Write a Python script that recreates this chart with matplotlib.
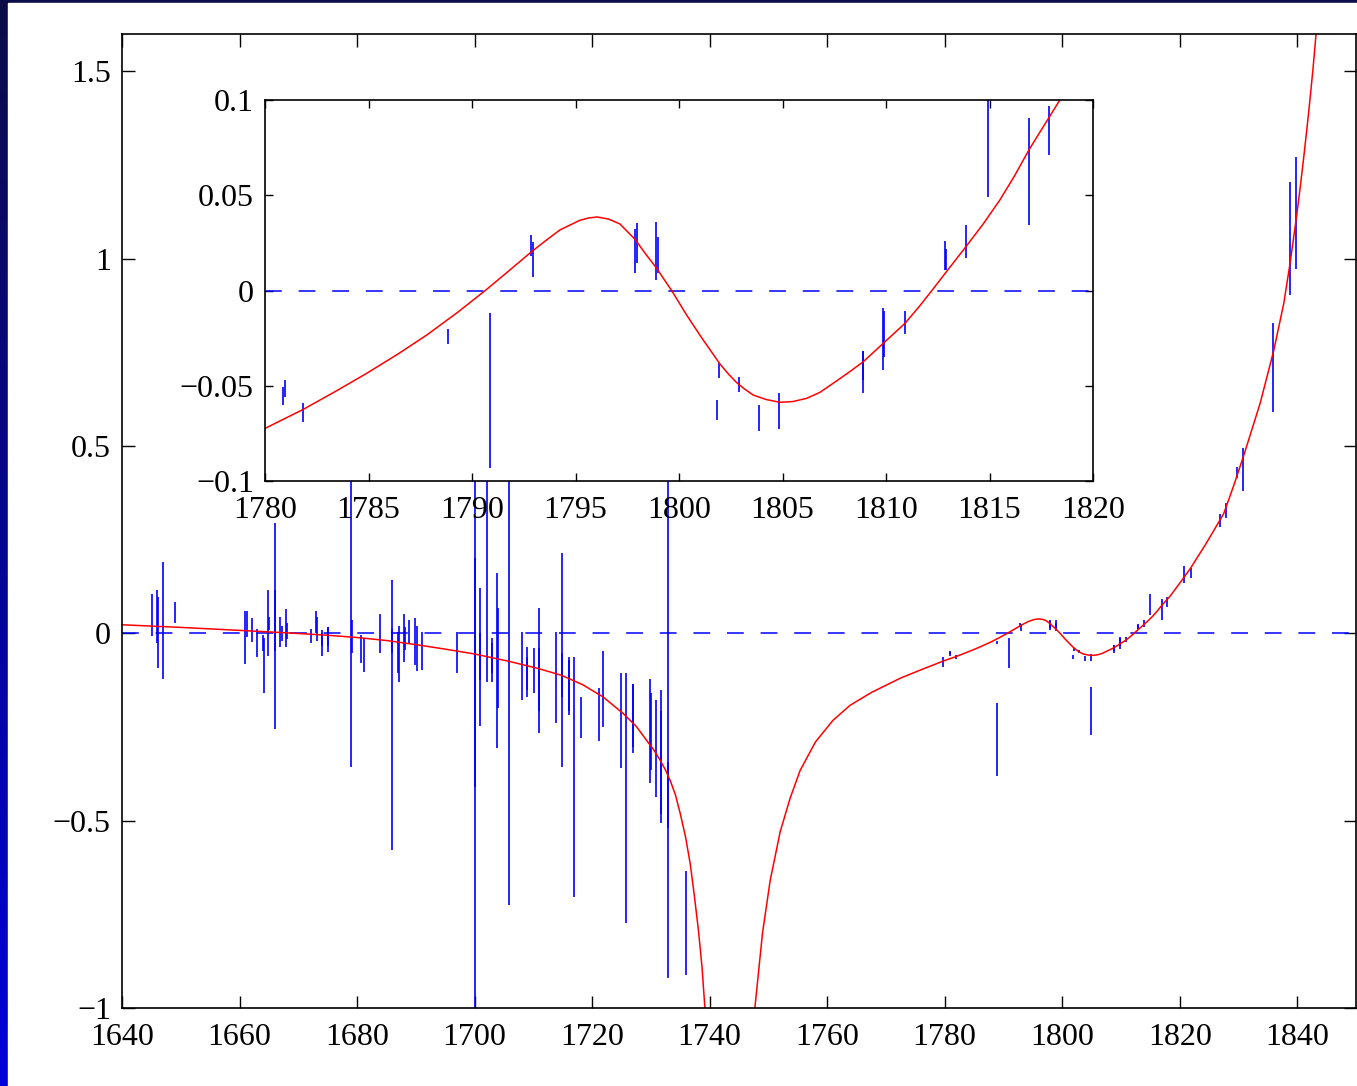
import numpy as np
import matplotlib
matplotlib.use("Agg")
import matplotlib.pyplot as plt
from matplotlib.patches import Rectangle

# error-bar segments: year, lower end, upper end
seg_year = [1645.1, 1645.9, 1646.1, 1647.0, 1649.1,
            1661.0, 1661.2, 1662.1, 1663.0, 1664.05, 1664.2, 1664.9, 1665.0,
            1666.0, 1666.1, 1666.9, 1667.2, 1667.9, 1668.1,
            1672.1, 1673.0, 1673.1, 1674.0, 1674.1, 1675.0, 1675.1,
            1679.0, 1679.1, 1680.7, 1681.1, 1683.9, 1685.9, 1686.0, 1686.9,
            1687.1, 1688.0, 1688.1, 1688.9, 1689.9, 1690.2, 1691.1, 1697.0,
            1700.0, 1700.1, 1700.9, 1701.0, 1702.1, 1702.9, 1703.0, 1703.9,
            1704.0, 1705.9, 1708.0, 1708.9, 1709.0, 1710.1, 1710.9, 1711.0,
            1713.9, 1714.8, 1714.9, 1716.0, 1716.1, 1717.0, 1718.1,
            1721.1, 1721.9, 1724.9, 1725.8, 1726.9, 1727.0, 1729.8, 1730.0,
            1730.9, 1731.7, 1731.8, 1732.9, 1733.0, 1736.0,
            1779.8, 1780.85, 1780.97, 1781.85, 1788.86, 1788.9, 1790.87,
            1792.84, 1792.93, 1797.87, 1797.99, 1798.89, 1798.97,
            1801.85, 1801.93, 1802.9, 1803.88, 1804.85, 1804.9,
            1808.87, 1808.9, 1809.87, 1809.9, 1810.92, 1812.85, 1812.9,
            1813.87, 1814.93, 1816.92, 1817.87,
            1820.8, 1821.9, 1826.8, 1827.9, 1829.8, 1830.8, 1835.9, 1838.8, 1839.8]
seg_lo = [-0.008, -0.027, -0.093, -0.123, 0.027,
          -0.083, -0.010, -0.024, -0.064, -0.048, -0.160, -0.061, 0.008,
          -0.254, -0.048, -0.037, -0.021, -0.037, -0.016,
          -0.027, 0.000, -0.019, -0.061, -0.035, -0.051, -0.035,
          -0.358, -0.053, -0.080, -0.104, -0.053, -0.577, -0.053, -0.107,
          -0.131, -0.077, -0.045, -0.027, -0.085, -0.101, -0.099, -0.107,
          -0.410, -1.050, -0.246, -0.125, -0.131, -0.131, -0.107, -0.307,
          -0.200, -0.726, -0.179, -0.152, -0.171, -0.160, -0.267, -0.206,
          -0.240, -0.358, -0.171, -0.219, -0.206, -0.705, -0.280,
          -0.286, -0.251, -0.360, -0.772, -0.318, -0.304, -0.400, -0.366,
          -0.438, -0.505, -0.481, -0.920, -0.520, -0.913,
          -0.091, -0.060, -0.056, -0.069, -0.028, -0.382, -0.0932,
          0.018, 0.0072, 0.009, 0.0143, 0.0055, 0.0093,
          -0.068, -0.046, -0.0531, -0.074, -0.0729, -0.272,
          -0.0536, -0.047, -0.0417, -0.035, -0.023, 0.0108, 0.0108,
          0.0169, 0.049, 0.0344, 0.071,
          0.134, 0.147, 0.283, 0.307, 0.414, 0.379, 0.590, 0.903, 0.972]
seg_hi = [0.104, 0.117, 0.096, 0.190, 0.083,
          0.059, 0.059, 0.040, 0.011, -0.005, -0.013, 0.117, 0.043,
          0.294, 0.117, 0.043, 0.019, 0.064, 0.029,
          0.013, 0.059, 0.043, 0.008, 0.000, 0.016, 0.016,
          0.500, 0.035, -0.003, -0.013, 0.051, 0.142, 0.011, 0.003,
          0.021, 0.053, 0.016, 0.035, 0.040, 0.021, 0.003, 0.003,
          0.200, 0.500, 0.120, 0.000, 0.500, -0.011, -0.027, 0.160,
          0.067, 0.500, 0.003, -0.037, -0.064, -0.040, 0.069, -0.040,
          0.003, 0.214, -0.053, -0.064, -0.072, -0.064, -0.171,
          -0.147, -0.048, -0.107, -0.107, -0.136, -0.136, -0.123, -0.160,
          -0.179, -0.152, -0.206, 0.500, -0.344, -0.633,
          -0.064, -0.0508, -0.047, -0.059, -0.020, -0.187, -0.0116,
          0.029, 0.0256, 0.0321, 0.0356, 0.0361, 0.0282,
          -0.0575, -0.0379, -0.0456, -0.060, -0.054, -0.144,
          -0.032, -0.032, -0.0093, -0.011, -0.0106, 0.0261, 0.022,
          0.0344, 0.104, 0.0905, 0.097,
          0.181, 0.174, 0.320, 0.347, 0.443, 0.494, 0.828, 1.204, 1.271]

fit_left_year = [1640.0, 1650.0, 1660.0, 1668.6, 1675.0, 1680.0, 1685.0, 1690.0,
                 1695.0, 1700.0, 1705.7, 1710.9, 1714.8, 1718.4, 1721.9, 1725.3,
                 1727.5, 1729.3, 1730.5, 1731.6, 1732.5, 1733.3, 1734.2, 1735.0,
                 1735.9, 1736.7, 1737.4, 1738.1, 1738.7, 1739.2]
fit_left_val = [0.023, 0.016, 0.008, 0.001, -0.005, -0.011, -0.019, -0.030,
                -0.042, -0.055, -0.074, -0.094, -0.112, -0.137, -0.170, -0.214,
                -0.248, -0.286, -0.311, -0.339, -0.365, -0.393, -0.432, -0.481,
                -0.543, -0.615, -0.700, -0.793, -0.890, -1.000]
fit_right_year = [1747.7, 1749.0, 1750.3, 1752.0, 1753.7, 1755.4, 1758.0, 1761.0,
                  1763.9, 1767.5, 1772.4, 1776.0, 1780.0, 1781.85, 1783.4, 1784.91,
                  1786.4, 1787.81, 1789.3, 1790.71, 1791.8, 1792.88, 1793.6,
                  1794.25, 1795.2, 1795.6, 1796.04, 1796.6, 1797.15, 1797.87,
                  1798.4, 1798.92, 1799.3, 1799.65, 1800.37, 1800.8, 1801.17,
                  1801.98, 1802.4, 1802.79, 1803.2, 1803.59, 1804.2, 1804.88,
                  1805.5, 1806.17, 1806.8, 1807.45, 1808.2, 1808.9, 1809.87,
                  1810.92, 1811.6, 1812.21, 1813.0, 1813.86, 1814.7, 1815.5,
                  1816.2, 1816.9, 1817.6, 1818.4, 1820.0, 1821.8, 1824.5,
                  1827.5, 1829.2, 1830.9, 1832.3, 1833.7, 1836.0, 1837.7,
                  1838.8, 1839.9, 1840.5, 1841.1, 1841.7, 1842.2, 1842.7, 1843.2]
fit_right_val = [-1.000, -0.800, -0.660, -0.530, -0.440, -0.366, -0.290, -0.232,
                 -0.192, -0.158, -0.120, -0.097, -0.0724, -0.0624, -0.053, -0.0435,
                 -0.0335, -0.0234, -0.0115, 0.0006, 0.0105, 0.0204, 0.0265,
                 0.0318, 0.0368, 0.0380, 0.0386, 0.0375, 0.0349, 0.0269,
                 0.0190, 0.0117, 0.0055, -0.0001, -0.0129, -0.0200, -0.026,
                 -0.0386, -0.0440, -0.0484, -0.0520, -0.0549, -0.0572, -0.0587,
                 -0.0583, -0.0566, -0.0535, -0.0487, -0.0430, -0.0374, -0.0277,
                 -0.0172, -0.0085, -0.0001, 0.0110, 0.023, 0.0350, 0.0475,
                 0.0600, 0.0737, 0.0860, 0.100, 0.134, 0.173, 0.240,
                 0.320, 0.395, 0.475, 0.545, 0.615, 0.755, 0.880,
                 0.990, 1.115, 1.190, 1.270, 1.355, 1.430, 1.510, 1.600]

main_xticks = [1640, 1660, 1680, 1700, 1720, 1740, 1760, 1780, 1800, 1820, 1840]
main_yticks = [-1, -0.5, 0, 0.5, 1, 1.5]
inset_xticks = [1780, 1785, 1790, 1795, 1800, 1805, 1810, 1815, 1820]
inset_yticks = [-0.1, -0.05, 0, 0.05, 0.1]

plt.rcParams['font.family'] = ['Liberation Serif', 'DejaVu Serif']
plt.rcParams['axes.linewidth'] = 1.2

W, H = 1357, 1086
fig = plt.figure(figsize=(W / 100, H / 100), dpi=100)

# slide background: dark band with blue gradient on the left edge
bg = fig.add_axes([0, 0, 1, 1], zorder=-10)
grad = np.linspace(0, 1, 256).reshape(-1, 1)
bg.imshow(grad, extent=[0, 1, 0, 1], aspect='auto', origin='upper',
          cmap=matplotlib.colors.LinearSegmentedColormap.from_list(
              'slide', ['#0c0c48', '#0000dc']))
bg.add_patch(Rectangle((8 / W, 0), 1, 1 - 3 / H, color='white'))
bg.set_xlim(0, 1)
bg.set_ylim(0, 1)
bg.axis('off')


def style(ax, ticklen):
    ax.tick_params(direction='in', top=True, right=True, length=ticklen,
                   width=1.0, labelsize=23)
    ax.tick_params(axis='x', pad=11)
    ax.tick_params(axis='y', pad=8)
    for s in ax.spines.values():
        s.set_linewidth(1.2)


def draw(ax):
    ax.axhline(0, color='#0000ff', lw=1.1, dashes=(11, 11))
    ax.vlines(seg_year, seg_lo, seg_hi, color='#0000ff', lw=1.2)
    ax.plot(fit_left_year, fit_left_val, color='#ff0000', lw=1.1)
    ax.plot(fit_right_year, fit_right_val, color='#ff0000', lw=1.1)


ax = fig.add_axes([122 / W, 1 - 1008 / H, 1234 / W, 974 / H])
draw(ax)
ax.set_xlim(1640, 1850)
ax.set_ylim(-1, 1.6)
ax.set_xticks(main_xticks)
ax.set_yticks(main_yticks)
ax.set_yticklabels(['\u22121', '\u22120.5', '0', '0.5', '1', '1.5'])
style(ax, 9)

ins = fig.add_axes([265 / W, 1 - 481 / H, 828 / W, 381 / H])
draw(ins)
ins.set_xlim(1780, 1820)
ins.set_ylim(-0.1, 0.1)
ins.set_xticks(inset_xticks)
ins.set_yticks(inset_yticks)
ins.set_yticklabels(['\u22120.1', '\u22120.05', '0', '0.05', '0.1'])
style(ins, 6)

fig.savefig('out.png', dpi=100)
